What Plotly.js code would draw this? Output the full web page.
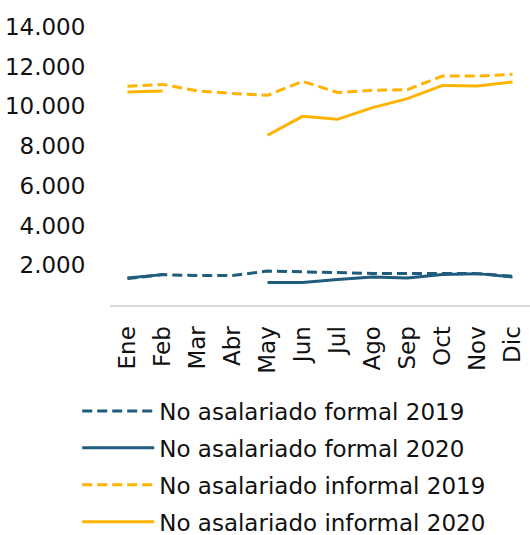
<!DOCTYPE html>
<html>
<head>
<meta charset="utf-8">
<script src="https://cdn.plot.ly/plotly-3.0.1.min.js"></script>
<style>html,body{margin:0;padding:0;background:#fff}#chart{width:530px;height:535px}</style>
</head>
<body>
<div id="chart"></div>
<script>
const months = ["Ene","Feb","Mar","Abr","May","Jun","Jul","Ago","Sep","Oct","Nov","Dic"];
const formal2019 = [1330,1530,1480,1480,1710,1660,1630,1590,1590,1590,1580,1450];
const formal2020 = [1360,1530,null,null,1130,1130,1280,1410,1360,1530,1580,1410];
const informal2019 = [11010,11110,10780,10650,10560,11260,10700,10810,10850,11530,11530,11620];
const informal2020 = [10730,10780,null,null,8550,9500,9350,9940,10390,11060,11030,11230];
const yTickVals = [2000,4000,6000,8000,10000,12000,14000];
const yTickText = ["2.000","4.000","6.000","8.000","10.000","12.000","14.000"];
const names = ["No asalariado formal 2019","No asalariado formal 2020","No asalariado informal 2019","No asalariado informal 2020"];

const blue = "#1F5C7D", orange = "#FFB300";
const FONT = "DejaVu Sans, sans-serif";
function tr(y, name, color, dash, g) {
  return {x: months, y: y, name: name, type: "scatter", mode: "lines",
    line: {color: color, width: 3, dash: dash}, connectgaps: false, legendgroup: g, hoverinfo: "skip"};
}
const data = [
  tr(formal2019, names[0], blue, "10px,5px", "a"),
  tr(formal2020, names[1], blue, "solid", "b"),
  tr(informal2019, names[2], orange, "10px,5px", "c"),
  tr(informal2020, names[3], orange, "solid", "d")
];
const layout = {
  width: 530, height: 535,
  margin: {l: 110, r: 0, t: 27, b: 230, autoexpand: false},
  paper_bgcolor: "#fff", plot_bgcolor: "#fff",
  font: {family: FONT, size: 23, color: "#111"},
  showlegend: true,
  xaxis: {type: "category", range: [-0.5, 11.5], tickangle: -90, showline: true, linecolor: "#D9D9D9", linewidth: 2,
    showgrid: false, zeroline: false, ticks: "outside", ticklen: 10, tickcolor: "rgba(0,0,0,0)",
    tickfont: {family: FONT, size: 23, color: "#111"}, fixedrange: true, automargin: false},
  yaxis: {range: [0, 14000], tickvals: yTickVals, ticktext: yTickText, showgrid: false, zeroline: false,
    showline: false, ticks: "outside", ticklen: 19, tickcolor: "rgba(0,0,0,0)",
    tickfont: {family: FONT, size: 23, color: "#111"}, fixedrange: true, automargin: false},
  legend: {xref: "container", yref: "container", x: 0.1457, y: 0.272, xanchor: "left", yanchor: "top",
    orientation: "v", traceorder: "grouped", tracegroupgap: 4, itemwidth: 72,
    font: {family: FONT, size: 23, color: "#111"}, bgcolor: "rgba(0,0,0,0)"}
};
Plotly.newPlot("chart", data, layout, {displayModeBar: false, staticPlot: true});
</script>
</body>
</html>
